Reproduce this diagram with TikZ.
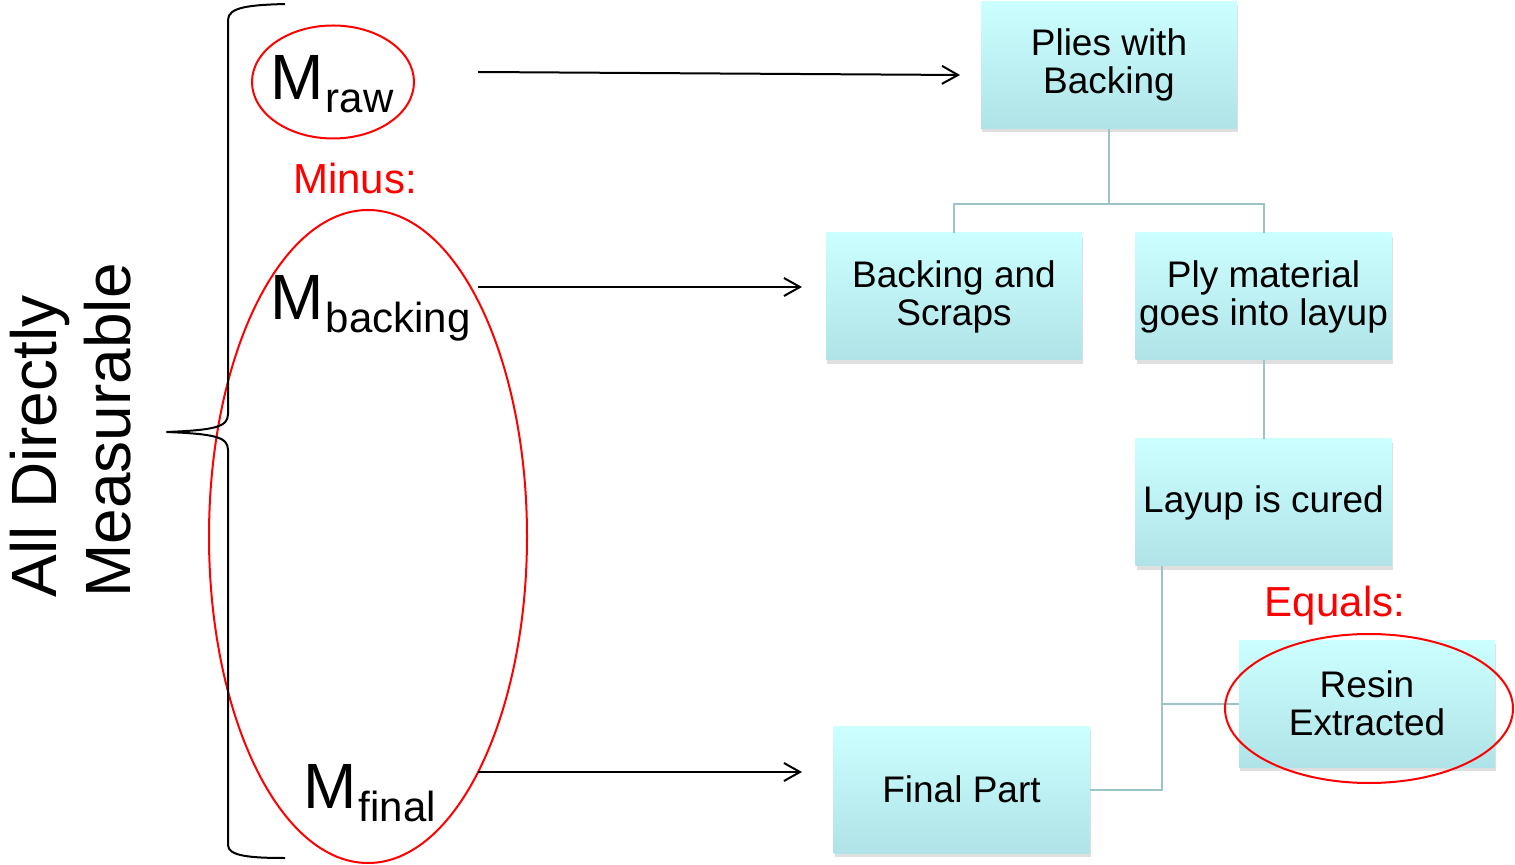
\documentclass[tikz,border=0pt]{standalone}
\usepackage{fontspec}
\setmainfont{Liberation Sans}
\usetikzlibrary{arrows.meta,shadows,shapes.geometric}
\definecolor{boxtop}{RGB}{204,255,255}
\definecolor{boxbot}{RGB}{176,227,231}
\definecolor{connc}{RGB}{155,196,200}
\begin{document}
\begin{tikzpicture}[x=0.5pt,y=-0.5pt,
  box/.style={draw=none, top color=boxtop, bottom color=boxbot, minimum width=128pt, minimum height=63.5pt, inner sep=0pt, align=center, font=\fontsize{18.5}{19}\selectfont, drop shadow={shadow xshift=0.5pt, shadow yshift=-2pt, opacity=0.25}},
  conn/.style={draw=connc, line width=1pt},
  arr/.style={line width=1pt, -{Straight Barb[length=8pt,width=9pt]}},
  ring/.style={draw=red, line width=1pt, ellipse, inner sep=0pt},
  mlab/.style={anchor=base west, inner sep=0pt},
  redlab/.style={text=red, font=\fontsize{21}{21}\selectfont, inner sep=0pt}]
\useasboundingbox (0,0) rectangle (1515,865);

% boxes
\node[box] (plies) at (1109,65) {Plies with\\Backing};
\node[box] (backing) at (954,296.5) {Backing and\\Scraps};
\node[box] (ply) at (1263.5,296.5) {Ply material\\goes into layup};
\node[box] (layup) at (1263.5,502.5) {Layup is cured};
\node[box] (resin) at (1367,703.5) {Resin\\Extracted};
\node[box] (final) at (961.5,789.5) {Final Part};

% connectors
\coordinate (fork) at (1109,204);
\draw[conn] (plies.south) -- (fork);
\draw[conn] (backing.north) |- (fork) -| (ply.north);
\draw[conn] (ply.south) -- (layup.north);
\coordinate (trunk) at (1162,566);
\draw[conn] (trunk) |- (resin.west);
\draw[conn] (trunk) |- (final.east);

% M labels
\node[mlab] (mraw) at (270,100) {\fontsize{32}{32}\selectfont M\kern1pt\raisebox{-6.5pt}{\fontsize{21}{21}\selectfont raw}};
\node[mlab] (mbacking) at (270,320) {\fontsize{32}{32}\selectfont M\kern1pt\raisebox{-6.5pt}{\fontsize{21}{21}\selectfont backing}};
\node[mlab] (mfinal) at (303,808) {\fontsize{32}{32}\selectfont M\kern1pt\raisebox{-6.5pt}{\fontsize{21}{21}\selectfont final}};

% red labels and rings
\node[redlab] (minus) at (355,178) {Minus:};
\node[redlab] (equals) at (1335,606) {Equals:};
\node[ring, minimum width=81pt, minimum height=56.5pt] (rawring) at (333,82) {};
\node[ring, minimum width=159pt, minimum height=326.5pt] (bigring) at (368,536.5) {};
\node[ring, minimum width=144pt, minimum height=74.5pt] (resinring) at (1369,708.5) {};

% arrows
\coordinate (a1s) at (478,72);
\coordinate (a1e) at (960,75);
\coordinate (a2s) at (478,287);
\coordinate (a2e) at (802,287);
\coordinate (a3s) at (478,772);
\coordinate (a3e) at (802,772);
\draw[arr] (a1s) -- (a1e);
\draw[arr] (a2s) -- (a2e);
\draw[arr] (a3s) -- (a3e);

% brace
\draw[line width=1pt, line join=round]
  (285,4) .. controls (250,5) and (228,7) .. (228,20) -- (228,414)
  .. controls (228,427) and (215,430) .. (167,432)
  .. controls (215,434) and (228,437) .. (228,450) -- (228,845)
  .. controls (228,856) and (250,858) .. (285,858);

% side label
\node[rotate=90, anchor=north west, align=left, inner sep=0pt, font=\fontsize{32}{37}\selectfont] (measurable) at (10,598) {All Directly\\Measurable};
\end{tikzpicture}
\end{document}
